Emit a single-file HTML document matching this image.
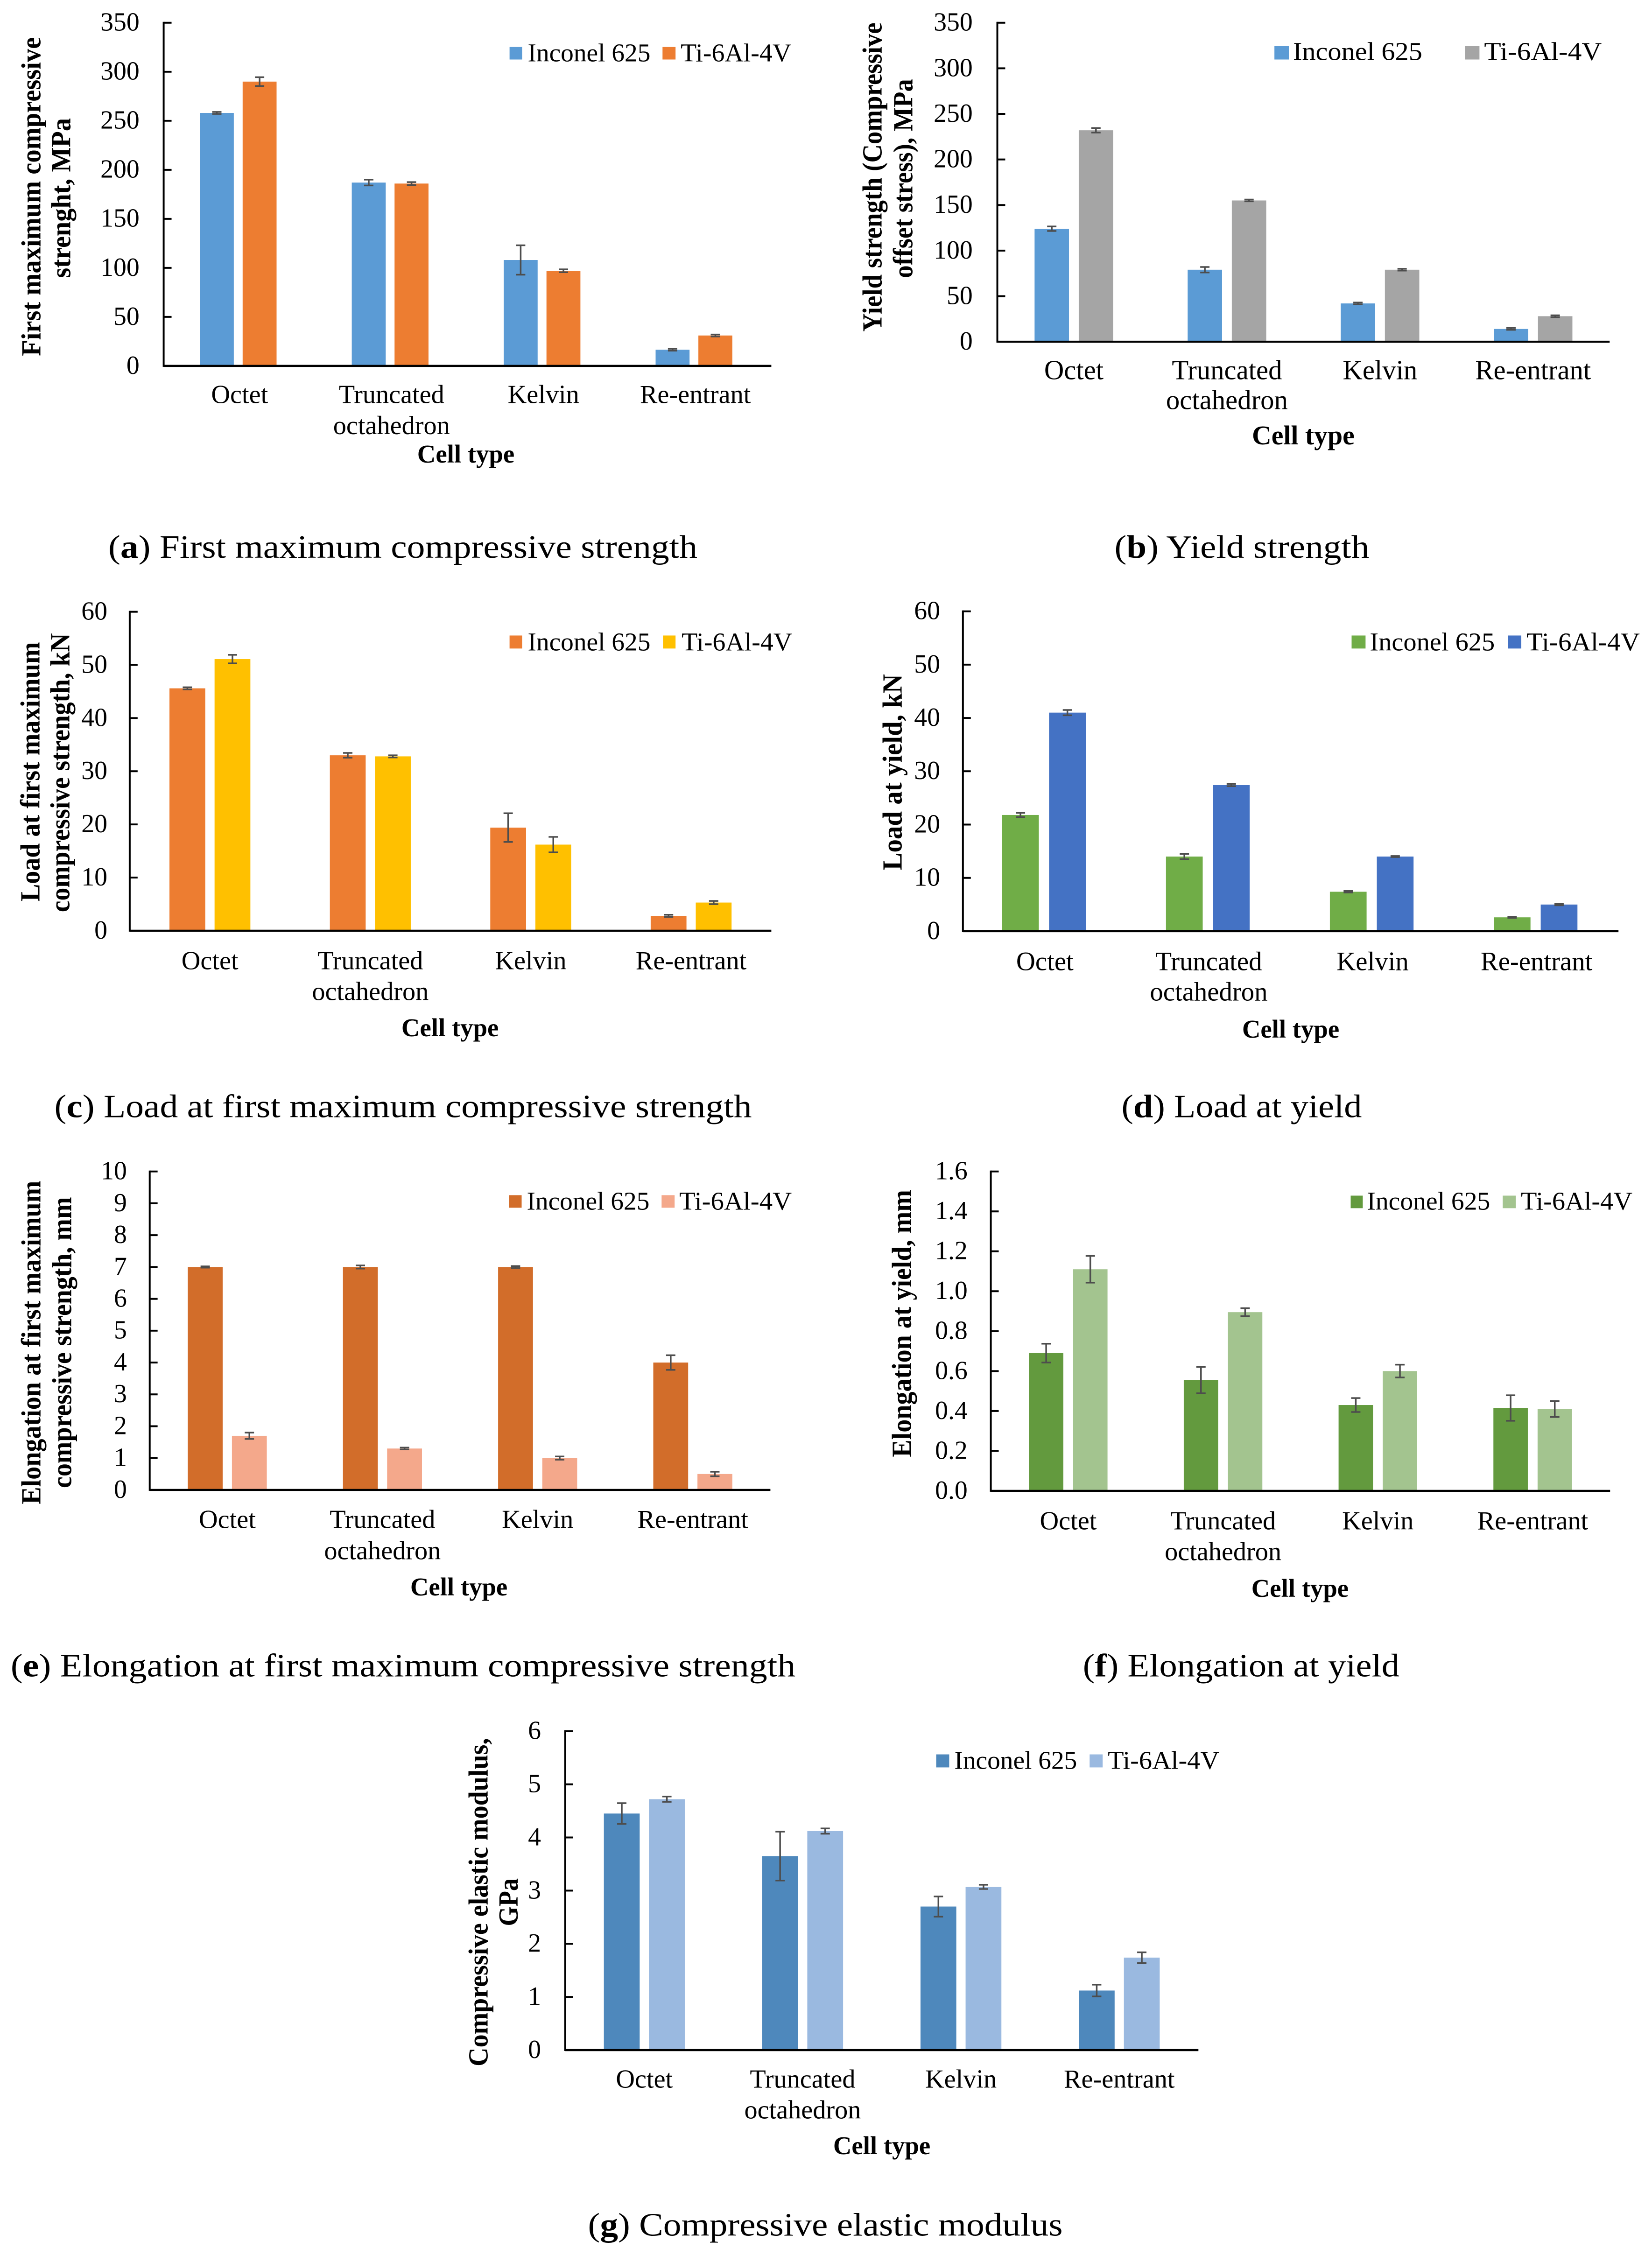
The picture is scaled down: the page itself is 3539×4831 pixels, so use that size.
<!DOCTYPE html>
<html lang="en">
<head>
<meta charset="utf-8">
<title>Compressive properties by cell type</title>
<style>
html,body{margin:0;padding:0;background:#fff;}
svg{display:block;}
text{font-family:"Liberation Serif",serif;fill:#000;}
.lg{font-size:55px;}
.xt{font-size:55px;font-weight:bold;}
.yt{font-size:60px;font-weight:bold;text-anchor:middle;}
.cap{font-size:70px;}
</style>
</head>
<body>
<svg id="figure" width="3539" height="4831" viewBox="0 0 3539 4831" xmlns="http://www.w3.org/2000/svg">
<rect width="3539" height="4831" fill="#fff"/>

<g id="chart-a" transform="translate(0,0) scale(0.996) translate(0,0)">
  <text class="yt" transform="translate(87,423) rotate(-90)" textLength="686" lengthAdjust="spacingAndGlyphs">First maximum compressive</text>
  <text class="yt" transform="translate(151,426) rotate(-90)" textLength="344" lengthAdjust="spacingAndGlyphs">strenght, MPa</text>
  <rect x="1096" y="101" width="27" height="27" fill="#5B9BD5"/>
  <text class="lg" x="1135" y="132" textLength="264" lengthAdjust="spacingAndGlyphs">Inconel 625</text>
  <rect x="1425" y="101" width="28" height="27" fill="#ED7D31"/>
  <text class="lg" x="1464" y="132" textLength="238" lengthAdjust="spacingAndGlyphs">Ti-6Al-4V</text>
  <text class="xt" x="1002" y="995" text-anchor="middle">Cell type</text>
  <text class="cap" x="233" y="1200" textLength="1267" lengthAdjust="spacingAndGlyphs">(<tspan font-weight="bold">a</tspan>) First maximum compressive strength</text>
</g>

<g id="chart-b" transform="translate(1770,0) scale(0.996) translate(-1770,0)">
  <text class="yt" transform="translate(1889,381) rotate(-90)" textLength="665" lengthAdjust="spacingAndGlyphs">Yield strength (Compressive</text>
  <text class="yt" transform="translate(1955,384) rotate(-90)" textLength="428" lengthAdjust="spacingAndGlyphs">offset stress), MPa</text>
  <rect x="2734" y="99" width="31" height="29" fill="#5B9BD5"/>
  <text class="lg" x="2774" y="129" textLength="278" lengthAdjust="spacingAndGlyphs">Inconel 625</text>
  <rect x="3144" y="99" width="31" height="29" fill="#A5A5A5"/>
  <text class="lg" x="3185" y="129" textLength="253" lengthAdjust="spacingAndGlyphs">Ti-6Al-4V</text>
  <text class="xt" x="2796" y="956" text-anchor="middle" style="font-size:58px">Cell type</text>
  <text class="cap" x="2390" y="1200" textLength="548" lengthAdjust="spacingAndGlyphs">(<tspan font-weight="bold">b</tspan>) Yield strength</text>
</g>

<g id="chart-c" transform="translate(0,1230) scale(0.996) translate(0,-1230)">
  <text class="yt" transform="translate(85,1655) rotate(-90)" textLength="558" lengthAdjust="spacingAndGlyphs">Load at first maximum</text>
  <text class="yt" transform="translate(149,1657) rotate(-90)" textLength="600" lengthAdjust="spacingAndGlyphs">compressive strength, kN</text>
  <rect x="1096" y="1362" width="27" height="28" fill="#ED7D31"/>
  <text class="lg" x="1135" y="1394" textLength="264" lengthAdjust="spacingAndGlyphs">Inconel 625</text>
  <rect x="1426" y="1362" width="27" height="28" fill="#FFC000"/>
  <text class="lg" x="1466" y="1394" textLength="238" lengthAdjust="spacingAndGlyphs">Ti-6Al-4V</text>
  <text class="xt" x="968" y="2224" text-anchor="middle">Cell type</text>
  <text class="cap" x="117" y="2398" textLength="1500" lengthAdjust="spacingAndGlyphs">(<tspan font-weight="bold">c</tspan>) Load at first maximum compressive strength</text>
</g>

<g id="chart-d" transform="translate(1770,1230) scale(0.996) translate(-1770,-1230)">
  <text class="yt" transform="translate(1932,1656) rotate(-90)" textLength="422" lengthAdjust="spacingAndGlyphs">Load at yield, kN</text>
  <rect x="2900" y="1362" width="30" height="28" fill="#70AD47"/>
  <text class="lg" x="2939" y="1394" textLength="269" lengthAdjust="spacingAndGlyphs">Inconel 625</text>
  <rect x="3236" y="1362" width="29" height="28" fill="#4472C4"/>
  <text class="lg" x="3276" y="1394" textLength="244" lengthAdjust="spacingAndGlyphs">Ti-6Al-4V</text>
  <text class="xt" x="2769" y="2227" text-anchor="middle">Cell type</text>
  <text class="cap" x="2405" y="2398" textLength="517" lengthAdjust="spacingAndGlyphs">(<tspan font-weight="bold">d</tspan>) Load at yield</text>
</g>

<g id="chart-e" transform="translate(0,2430) scale(0.996) translate(0,-2430)">
  <text class="yt" transform="translate(87,2878) rotate(-90)" textLength="696" lengthAdjust="spacingAndGlyphs">Elongation at first maximum</text>
  <text class="yt" transform="translate(153,2878) rotate(-90)" textLength="626" lengthAdjust="spacingAndGlyphs">compressive strength, mm</text>
  <rect x="1095" y="2561" width="27" height="27" fill="#D26D2A"/>
  <text class="lg" x="1133" y="2592" textLength="264" lengthAdjust="spacingAndGlyphs">Inconel 625</text>
  <rect x="1423" y="2561" width="28" height="27" fill="#F4A88B"/>
  <text class="lg" x="1461" y="2592" textLength="242" lengthAdjust="spacingAndGlyphs">Ti-6Al-4V</text>
  <text class="xt" x="987" y="3422" text-anchor="middle">Cell type</text>
  <text class="cap" x="23" y="3596" textLength="1688" lengthAdjust="spacingAndGlyphs">(<tspan font-weight="bold">e</tspan>) Elongation at first maximum compressive strength</text>
</g>

<g id="chart-f" transform="translate(1770,2430) scale(0.996) translate(-1770,-2430)">
  <text class="yt" transform="translate(1952,2837) rotate(-90)" textLength="575" lengthAdjust="spacingAndGlyphs">Elongation at yield, mm</text>
  <rect x="2898" y="2562" width="26" height="27" fill="#639A3E"/>
  <text class="lg" x="2933" y="2592" textLength="265" lengthAdjust="spacingAndGlyphs">Inconel 625</text>
  <rect x="3225" y="2562" width="28" height="27" fill="#A3C48F"/>
  <text class="lg" x="3264" y="2592" textLength="240" lengthAdjust="spacingAndGlyphs">Ti-6Al-4V</text>
  <text class="xt" x="2789" y="3425" text-anchor="middle">Cell type</text>
  <text class="cap" x="2322" y="3596" textLength="681" lengthAdjust="spacingAndGlyphs">(<tspan font-weight="bold">f</tspan>) Elongation at yield</text>
</g>

<g id="chart-g" transform="translate(900,3640) scale(0.996) translate(-900,-3640)">
  <text class="yt" transform="translate(1045,4077) rotate(-90)" textLength="706" lengthAdjust="spacingAndGlyphs">Compressive elastic modulus,</text>
  <text class="yt" transform="translate(1110,4077) rotate(-90)" textLength="103" lengthAdjust="spacingAndGlyphs">GPa</text>
  <rect x="2010" y="3759" width="28" height="28" fill="#4E88BC"/>
  <text class="lg" x="2049" y="3790" textLength="264" lengthAdjust="spacingAndGlyphs">Inconel 625</text>
  <rect x="2340" y="3759" width="28" height="28" fill="#9AB9E0"/>
  <text class="lg" x="2379" y="3790" textLength="240" lengthAdjust="spacingAndGlyphs">Ti-6Al-4V</text>
  <text class="xt" x="1893" y="4619" text-anchor="middle">Cell type</text>
  <text class="cap" x="1261" y="4794" textLength="1021" lengthAdjust="spacingAndGlyphs">(<tspan font-weight="bold">g</tspan>) Compressive elastic modulus</text>
</g>
</svg>

<script>
const categories = ['Octet', 'Truncated octahedron', 'Kelvin', 'Re-entrant'];

const aTicks = ['0', '50', '100', '150', '200', '250', '300', '350'];
const aInconel = [258, 187, 108, 16.5];
const aTi = [290, 186, 97, 31];
const aInconelErr = [1, 3, 15, 1];
const aTiErr = [4.5, 1.5, 1.5, 1];

const bTicks = ['0', '50', '100', '150', '200', '250', '300', '350'];
const bInconel = [124, 79, 42, 14];
const bTi = [232, 155, 79, 28];
const bInconelErr = [2.5, 3, 1, 1];
const bTiErr = [2.5, 1, 1, 1];

const cTicks = ['0', '10', '20', '30', '40', '50', '60'];
const cInconel = [45.6, 33, 19.4, 2.8];
const cTi = [51.1, 32.8, 16.2, 5.3];
const cInconelErr = [0.2, 0.45, 2.7, 0.2];
const cTiErr = [0.8, 0.2, 1.45, 0.3];

const dTicks = ['0', '10', '20', '30', '40', '50', '60'];
const dInconel = [21.8, 14, 7.4, 2.6];
const dTi = [41, 27.4, 14, 5];
const dInconelErr = [0.4, 0.5, 0.15, 0.1];
const dTiErr = [0.5, 0.2, 0.1, 0.15];

const eTicks = ['0', '1', '2', '3', '4', '5', '6', '7', '8', '9', '10'];
const eInconel = [7, 7, 7, 4];
const eTi = [1.7, 1.3, 1, 0.5];
const eInconelErr = [0.02, 0.05, 0.03, 0.23];
const eTiErr = [0.1, 0.03, 0.05, 0.07];

const fTicks = ['0.0', '0.2', '0.4', '0.6', '0.8', '1.0', '1.2', '1.4', '1.6'];
const fInconel = [0.69, 0.555, 0.43, 0.415];
const fTi = [1.11, 0.895, 0.6, 0.41];
const fInconelErr = [0.047, 0.066, 0.035, 0.064];
const fTiErr = [0.067, 0.02, 0.032, 0.04];

const gTicks = ['0', '1', '2', '3', '4', '5', '6'];
const gInconel = [4.45, 3.65, 2.7, 1.12];
const gTi = [4.72, 4.12, 3.07, 1.74];
const gInconelErr = [0.195, 0.46, 0.19, 0.11];
const gTiErr = [0.05, 0.05, 0.04, 0.1];

const SVGNS = 'http://www.w3.org/2000/svg';

function make(tag, attrs) {
  const el = document.createElementNS(SVGNS, tag);
  for (const k in attrs) el.setAttribute(k, attrs[k]);
  return el;
}

function drawChart(cfg) {
  const root = document.getElementById(cfg.id);
  const maxV = parseFloat(cfg.ticks[cfg.ticks.length - 1]);
  const yScale = function (v) { return cfg.zero - (v / maxV) * (cfg.zero - cfg.top); };
  const band = (cfg.right - cfg.axisX) / categories.length;
  const xScale = function (i) { return cfg.axisX + (i + 0.5) * band; };
  const fs = cfg.font;
  const shift = cfg.barShift || 0;

  function drawSeries(values, errors, color, offset, seriesName) {
    values.forEach(function (v, i) {
      const cx = xScale(i) + offset + shift;
      const bar = make('rect', { x: cx - cfg.barW / 2, y: yScale(v), width: cfg.barW, height: cfg.zero - yScale(v), fill: color });
      
      
      root.appendChild(bar);
    });
    values.forEach(function (v, i) {
      const cx = xScale(i) + offset + shift;
      const hi = yScale(v + errors[i]);
      const lo = yScale(v - errors[i]);
      const err = make('path', {
        d: 'M' + (cx - 10) + ' ' + hi + 'H' + (cx + 10) + 'M' + cx + ' ' + hi + 'V' + lo + 'M' + (cx - 10) + ' ' + lo + 'H' + (cx + 10),
        stroke: '#4d4d4d', 'stroke-width': 3.5, fill: 'none'
      });
      
      
      root.appendChild(err);
    });
  }

  drawSeries(cfg.inconel, cfg.inconelErr, cfg.colorA, -cfg.step / 2, 'inconel');
  drawSeries(cfg.ti, cfg.tiErr, cfg.colorB, cfg.step / 2, 'ti');

  const yAxis = make('line', { x1: cfg.axisX, x2: cfg.axisX, y1: cfg.top - 2, y2: cfg.zero + 2, stroke: '#000', 'stroke-width': 4 });
  
  
  root.appendChild(yAxis);

  const xAxis = make('line', { x1: cfg.axisX, x2: cfg.right, y1: cfg.zero, y2: cfg.zero, stroke: '#000', 'stroke-width': 4.5 });
  
  
  root.appendChild(xAxis);

  cfg.ticks.forEach(function (t) {
    const y = yScale(parseFloat(t));
    const mark = make('line', { x1: cfg.axisX, x2: cfg.axisX + 17, y1: y, y2: y, stroke: '#000', 'stroke-width': 4 });
    
    
    root.appendChild(mark);
    const label = make('text', { x: cfg.tickRight, y: y + 17, 'text-anchor': 'end', 'font-size': Math.min(fs, 56) });
    
    
    label.textContent = t;
    root.appendChild(label);
  });

  categories.forEach(function (name, i) {
    name.split(' ').forEach(function (line, j) {
      const label = make('text', { x: xScale(i), y: j === 0 ? cfg.catY1 : cfg.catY2, 'text-anchor': 'middle', 'font-size': fs });
      
      
      label.textContent = line;
      root.appendChild(label);
    });
  });
}

drawChart({ id: 'chart-a', ticks: aTicks, inconel: aInconel, ti: aTi, inconelErr: aInconelErr, tiErr: aTiErr,
  colorA: '#5B9BD5', colorB: '#ED7D31', axisX: 352, right: 1659, top: 49, zero: 787, barW: 73, step: 92, barShift: -3, tickRight: 300, catY1: 867, catY2: 934, font: 56.5 });
drawChart({ id: 'chart-b', ticks: bTicks, inconel: bInconel, ti: bTi, inconelErr: bInconelErr, tiErr: bTiErr,
  colorA: '#5B9BD5', colorB: '#A5A5A5', axisX: 2138, right: 3455, top: 49, zero: 735, barW: 74, step: 95, tickRight: 2085, catY1: 816, catY2: 880, font: 59 });
drawChart({ id: 'chart-c', ticks: cTicks, inconel: cInconel, ti: cTi, inconelErr: cInconelErr, tiErr: cTiErr,
  colorA: '#ED7D31', colorB: '#FFC000', axisX: 279, right: 1659, top: 1311, zero: 1997, barW: 77, step: 97, tickRight: 231, catY1: 2080, catY2: 2146, font: 56.5 });
drawChart({ id: 'chart-d', ticks: dTicks, inconel: dInconel, ti: dTi, inconelErr: dInconelErr, tiErr: dTiErr,
  colorA: '#70AD47', colorB: '#4472C4', axisX: 2064, right: 3474, top: 1310, zero: 1998, barW: 79, step: 101, barShift: -2, tickRight: 2015, catY1: 2082, catY2: 2147, font: 57 });
drawChart({ id: 'chart-e', ticks: eTicks, inconel: eInconel, ti: eTi, inconelErr: eInconelErr, tiErr: eTiErr,
  colorA: '#D26D2A', colorB: '#F4A88B', axisX: 322, right: 1657, top: 2510, zero: 3195, barW: 75, step: 95, tickRight: 273, catY1: 3277, catY2: 3344, font: 56.5 });
drawChart({ id: 'chart-f', ticks: fTicks, inconel: fInconel, ti: fTi, inconelErr: fInconelErr, tiErr: fTiErr,
  colorA: '#639A3E', colorB: '#A3C48F', axisX: 2124, right: 3456, top: 2510, zero: 3197, barW: 74, step: 95, tickRight: 2074, catY1: 3280, catY2: 3346, font: 56.5 });
drawChart({ id: 'chart-g', ticks: gTicks, inconel: gInconel, ti: gTi, inconelErr: gInconelErr, tiErr: gTiErr,
  colorA: '#4E88BC', colorB: '#9AB9E0', axisX: 1212, right: 2574, top: 3709, zero: 4395, barW: 77, step: 97, tickRight: 1160, catY1: 4476, catY2: 4542, font: 56.5 });
</script>
</body>
</html>
